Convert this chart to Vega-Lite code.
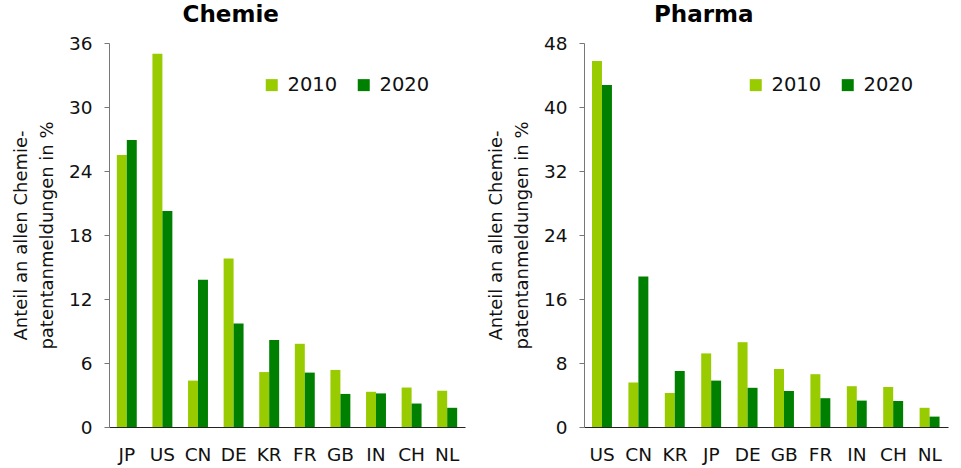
{
  "$schema": "https://vega.github.io/schema/vega-lite/v6.json",
  "padding": {"left": 12, "top": 4, "right": 5, "bottom": 2},
  "background": "white",
  "config": {
    "view": {"stroke": null},
    "font": "DejaVu Sans",
    "title": {"fontSize": 23, "fontWeight": "bold", "color": "black", "frame": "bounds", "anchor": "middle", "offset": 7},
    "axis": {"labelFontSize": 18.5, "titleFontSize": 18, "labelColor": "#111", "titleColor": "#111", "titleFontWeight": "normal", "domainColor": "#777", "tickColor": "#777", "grid": false},
    "legend": {"labelFontSize": 19.5, "labelColor": "#111"}
  },
  "data": {"values": [
    {"panel": "Chemie", "land": "JP", "jahr": "2010", "wert": 25.5},
    {"panel": "Chemie", "land": "JP", "jahr": "2020", "wert": 26.9},
    {"panel": "Chemie", "land": "US", "jahr": "2010", "wert": 35.0},
    {"panel": "Chemie", "land": "US", "jahr": "2020", "wert": 20.25},
    {"panel": "Chemie", "land": "CN", "jahr": "2010", "wert": 4.35},
    {"panel": "Chemie", "land": "CN", "jahr": "2020", "wert": 13.8},
    {"panel": "Chemie", "land": "DE", "jahr": "2010", "wert": 15.8},
    {"panel": "Chemie", "land": "DE", "jahr": "2020", "wert": 9.7},
    {"panel": "Chemie", "land": "KR", "jahr": "2010", "wert": 5.15},
    {"panel": "Chemie", "land": "KR", "jahr": "2020", "wert": 8.15},
    {"panel": "Chemie", "land": "FR", "jahr": "2010", "wert": 7.8},
    {"panel": "Chemie", "land": "FR", "jahr": "2020", "wert": 5.1},
    {"panel": "Chemie", "land": "GB", "jahr": "2010", "wert": 5.35},
    {"panel": "Chemie", "land": "GB", "jahr": "2020", "wert": 3.1},
    {"panel": "Chemie", "land": "IN", "jahr": "2010", "wert": 3.3},
    {"panel": "Chemie", "land": "IN", "jahr": "2020", "wert": 3.15},
    {"panel": "Chemie", "land": "CH", "jahr": "2010", "wert": 3.7},
    {"panel": "Chemie", "land": "CH", "jahr": "2020", "wert": 2.2},
    {"panel": "Chemie", "land": "NL", "jahr": "2010", "wert": 3.4},
    {"panel": "Chemie", "land": "NL", "jahr": "2020", "wert": 1.8},
    {"panel": "Pharma", "land": "US", "jahr": "2010", "wert": 45.75},
    {"panel": "Pharma", "land": "US", "jahr": "2020", "wert": 42.75},
    {"panel": "Pharma", "land": "CN", "jahr": "2010", "wert": 5.55},
    {"panel": "Pharma", "land": "CN", "jahr": "2020", "wert": 18.8},
    {"panel": "Pharma", "land": "KR", "jahr": "2010", "wert": 4.25},
    {"panel": "Pharma", "land": "KR", "jahr": "2020", "wert": 7.0},
    {"panel": "Pharma", "land": "JP", "jahr": "2010", "wert": 9.2},
    {"panel": "Pharma", "land": "JP", "jahr": "2020", "wert": 5.8},
    {"panel": "Pharma", "land": "DE", "jahr": "2010", "wert": 10.6},
    {"panel": "Pharma", "land": "DE", "jahr": "2020", "wert": 4.9},
    {"panel": "Pharma", "land": "GB", "jahr": "2010", "wert": 7.25},
    {"panel": "Pharma", "land": "GB", "jahr": "2020", "wert": 4.5},
    {"panel": "Pharma", "land": "FR", "jahr": "2010", "wert": 6.6},
    {"panel": "Pharma", "land": "FR", "jahr": "2020", "wert": 3.6},
    {"panel": "Pharma", "land": "IN", "jahr": "2010", "wert": 5.1},
    {"panel": "Pharma", "land": "IN", "jahr": "2020", "wert": 3.3},
    {"panel": "Pharma", "land": "CH", "jahr": "2010", "wert": 5.0},
    {"panel": "Pharma", "land": "CH", "jahr": "2020", "wert": 3.25},
    {"panel": "Pharma", "land": "NL", "jahr": "2010", "wert": 2.4},
    {"panel": "Pharma", "land": "NL", "jahr": "2020", "wert": 1.3}
  ]},
  "resolve": {"scale": {"color": "independent", "x": "independent", "y": "independent"}},
  "spacing": 22,
  "hconcat": [
    {
      "title": {"text": "Chemie", "dx": -8},
      "width": 356,
      "height": 384,
      "transform": [{"filter": "datum.panel === 'Chemie'"}],
      "mark": {"type": "bar"},
      "encoding": {
        "x": {"field": "land", "type": "nominal", "sort": ["JP", "US", "CN", "DE", "KR", "FR", "GB", "IN", "CH", "NL"],
              "scale": {"paddingInner": 0.44, "paddingOuter": 0.22},
              "axis": {"title": null, "labelAngle": 0, "ticks": false, "labelPadding": 18, "domainColor": "#222"}},
        "xOffset": {"field": "jahr", "type": "nominal", "scale": {"paddingInner": 0, "paddingOuter": 0}},
        "y": {"field": "wert", "type": "quantitative", "scale": {"domain": [0, 36]},
              "axis": {"values": [0, 6, 12, 18, 24, 30, 36], "title": ["Anteil an allen Chemie-", "patentanmeldungen in %"], "tickSize": 5, "labelPadding": 12, "titlePadding": 12, "titleLineHeight": 26}},
        "color": {"field": "jahr", "type": "nominal", "scale": {"domain": ["2010", "2020"], "range": ["#99cc00", "#008000"]},
                  "legend": {"title": null, "orient": "none", "legendX": 153, "legendY": 32, "direction": "horizontal", "symbolType": "square", "symbolSize": 144, "symbolStrokeWidth": 0, "labelOffset": 6, "columnPadding": 16}}
      }
    },
    {
      "title": {"text": "Pharma", "dx": -14},
      "width": 364,
      "height": 384,
      "transform": [{"filter": "datum.panel === 'Pharma'"}],
      "mark": {"type": "bar"},
      "encoding": {
        "x": {"field": "land", "type": "nominal", "sort": ["US", "CN", "KR", "JP", "DE", "GB", "FR", "IN", "CH", "NL"],
              "scale": {"paddingInner": 0.44, "paddingOuter": 0.22},
              "axis": {"title": null, "labelAngle": 0, "ticks": false, "labelPadding": 18, "domainColor": "#222"}},
        "xOffset": {"field": "jahr", "type": "nominal", "scale": {"paddingInner": 0, "paddingOuter": 0}},
        "y": {"field": "wert", "type": "quantitative", "scale": {"domain": [0, 48]},
              "axis": {"values": [0, 8, 16, 24, 32, 40, 48], "title": ["Anteil an allen Chemie-", "patentanmeldungen in %"], "tickSize": 5, "labelPadding": 12, "titlePadding": 12, "titleLineHeight": 26}},
        "color": {"field": "jahr", "type": "nominal", "scale": {"domain": ["2010", "2020"], "range": ["#99cc00", "#008000"]},
                  "legend": {"title": null, "orient": "none", "legendX": 162, "legendY": 32, "direction": "horizontal", "symbolType": "square", "symbolSize": 144, "symbolStrokeWidth": 0, "labelOffset": 6, "columnPadding": 16}}
      }
    }
  ]
}
